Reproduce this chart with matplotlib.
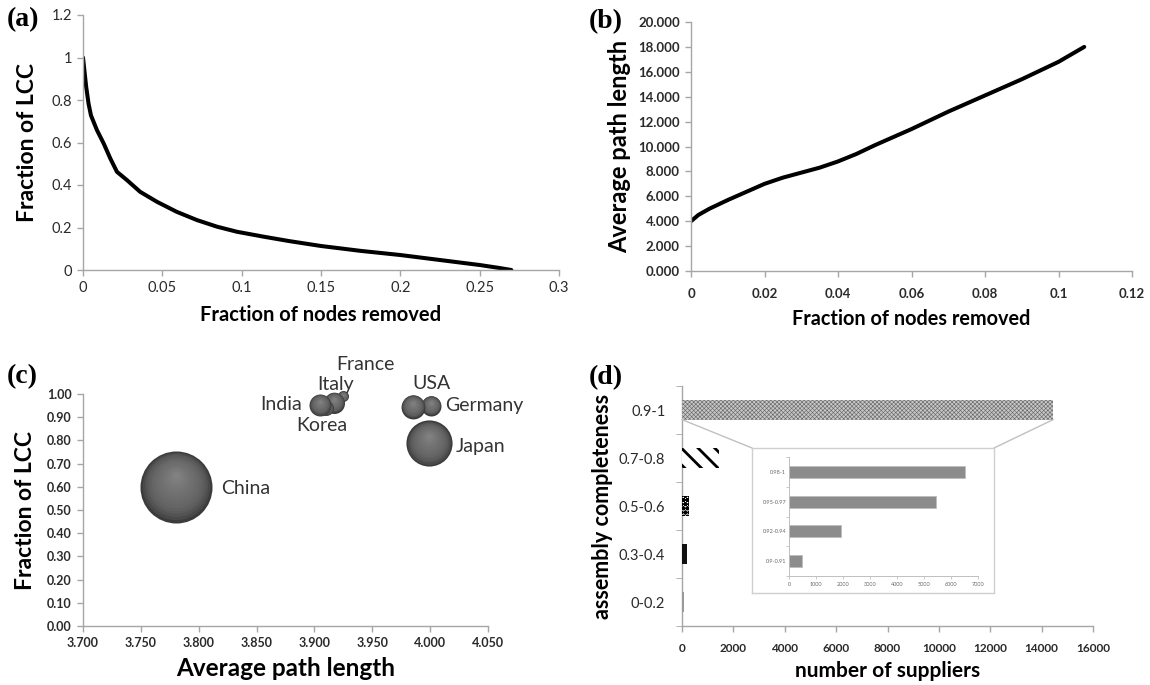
import numpy as np
import matplotlib
matplotlib.use('Agg')
import matplotlib.pyplot as plt
import matplotlib.transforms as mtransforms
from matplotlib.patches import ConnectionPatch

# ---------------- data ----------------
# (a)
a_removed = [0, 0.002, 0.0035, 0.005, 0.0088, 0.013, 0.0172, 0.0214, 0.0277, 0.036,
             0.0466, 0.059, 0.0718, 0.0844, 0.097, 0.1137, 0.13, 0.15, 0.175, 0.2,
             0.225, 0.25, 0.262, 0.27]
a_lcc = [1.0, 0.862, 0.783, 0.728, 0.658, 0.596, 0.525, 0.462, 0.423, 0.368,
         0.321, 0.274, 0.235, 0.204, 0.18, 0.157, 0.136, 0.113, 0.09, 0.0705,
         0.047, 0.0235, 0.01, 0.0]
a_xticks = [0, 0.05, 0.1, 0.15, 0.2, 0.25, 0.3]
a_xticklabels = ['0', '0.05', '0.1', '0.15', '0.2', '0.25', '0.3']
a_yticks = [0, 0.2, 0.4, 0.6, 0.8, 1.0, 1.2]
a_yticklabels = ['0', '0.2', '0.4', '0.6', '0.8', '1', '1.2']

# (b)
b_removed = [0, 0.002, 0.005, 0.01, 0.015, 0.02, 0.025, 0.03, 0.035, 0.04, 0.045,
             0.05, 0.06, 0.07, 0.08, 0.09, 0.1, 0.107]
b_apl = [4.0, 4.5, 5.0, 5.7, 6.35, 7.0, 7.5, 7.9, 8.3, 8.8, 9.4,
         10.1, 11.4, 12.8, 14.1, 15.4, 16.8, 18.0]
b_xticks = [0, 0.02, 0.04, 0.06, 0.08, 0.1, 0.12]
b_xticklabels = ['0', '0.02', '0.04', '0.06', '0.08', '0.1', '0.12']
b_yticks = [0, 2, 4, 6, 8, 10, 12, 14, 16, 18, 20]

# (c)
countries = ['China', 'Japan', 'USA', 'Germany', 'India', 'Korea', 'Italy', 'France']
c_apl = [3.780, 3.999, 3.985, 4.001, 3.905, 3.910, 3.917, 3.925]
c_lcc = [0.60, 0.787, 0.945, 0.95, 0.953, 0.94, 0.963, 0.99]
c_bubble = [100, 41, 11, 7.7, 9.3, 4.3, 8.5, 2.3]
c_xticks = [3.70, 3.75, 3.80, 3.85, 3.90, 3.95, 4.00, 4.05]
c_yticks = [0.0, 0.1, 0.2, 0.3, 0.4, 0.5, 0.6, 0.7, 0.8, 0.9, 1.0]

# (d)
completeness = ['0-0.2', '0.3-0.4', '0.5-0.6', '0.7-0.8', '0.9-1']
suppliers = [90, 180, 260, 1440, 14450]
d_xticks = [0, 2000, 4000, 6000, 8000, 10000, 12000, 14000, 16000]
inset_cats = ['0.9-0.91', '0.92-0.94', '0.95-0.97', '0.98-1']
inset_suppliers = [480, 1930, 5450, 6500]
inset_xticks = [0, 1000, 2000, 3000, 4000, 5000, 6000, 7000]

# ---------------- style ----------------
SANS = ['Lato', 'DejaVu Sans']
SERIF = ['Liberation Serif', 'DejaVu Serif']
plt.rcParams['font.family'] = SANS
SPINE = '#a6a6a6'
W, H = 1150, 685

fig = plt.figure(figsize=(11.5, 6.85), dpi=100)


def rect(l, t, r, b):
    return [l / W, 1 - b / H, (r - l) / W, (b - t) / H]


def excel_axes(ax, tick_size, bold=False):
    for s in ['top', 'right']:
        ax.spines[s].set_visible(False)
    for s in ['left', 'bottom']:
        ax.spines[s].set_color(SPINE)
        ax.spines[s].set_linewidth(1.0)
    ax.tick_params(direction='out', length=4, width=1, color=SPINE,
                   labelsize=tick_size, labelcolor='#2a2a2a', pad=4)
    if bold:
        for lab in ax.get_xticklabels() + ax.get_yticklabels():
            lab.set_fontweight('bold')


# ---------------- (a) ----------------
axa = fig.add_axes(rect(83, 15, 559, 270))
axa.plot(a_removed, a_lcc, color='black', lw=2.9, solid_capstyle='round',
         solid_joinstyle='round')
axa.set_xlim(0, 0.3)
axa.set_ylim(0, 1.2)
axa.set_xticks(a_xticks)
axa.set_xticklabels(a_xticklabels)
axa.set_yticks(a_yticks)
axa.set_yticklabels(a_yticklabels)
excel_axes(axa, 10.5)
axa.set_xlabel('Fraction of nodes removed', fontsize=14.5, fontweight='bold', labelpad=7)
axa.set_ylabel('Fraction of LCC', fontsize=16.5, fontweight='bold', labelpad=10)

# ---------------- (b) ----------------
axb = fig.add_axes(rect(691, 22, 1132, 271))
axb.plot(b_removed, b_apl, color='black', lw=2.9, solid_capstyle='round',
         solid_joinstyle='round')
axb.set_xlim(0, 0.12)
axb.set_ylim(0, 20)
axb.set_xticks(b_xticks)
axb.set_xticklabels(b_xticklabels)
axb.set_yticks(b_yticks)
axb.set_yticklabels(['%.3f' % v for v in b_yticks])
excel_axes(axb, 9.5, bold=True)
axb.tick_params(axis='x', pad=8)
axb.set_xlabel('Fraction of nodes removed', fontsize=14.3, fontweight='bold', labelpad=7)
axb.set_ylabel('Average path length', fontsize=17, fontweight='bold', labelpad=5)

# ---------------- (c) ----------------
axc = fig.add_axes(rect(83, 394, 488, 626))
axc.set_xlim(3.70, 4.05)
axc.set_ylim(0, 1.0)
axc.set_xticks(c_xticks)
axc.set_xticklabels(['%.3f' % v for v in c_xticks])
axc.set_yticks(c_yticks)
axc.set_yticklabels(['%.2f' % v for v in c_yticks])
excel_axes(axc, 9, bold=True)
axc.set_xlabel('Average path length', fontsize=17.5, fontweight='bold', labelpad=6)
axc.set_ylabel('Fraction of LCC', fontsize=16.5, fontweight='bold', labelpad=8)

SIZE_K = 26.9  # points^2 per bubble unit
label_offsets = {  # pixels (dx, dy, ha)
    'China': (46, -2, 'left'), 'Japan': (27, -3, 'left'), 'USA': (0, 23, 'left'),
    'Germany': (14, 0, 'left'), 'India': (-18, 0, 'right'), 'Italy': (1, 18, 'center'),
    'Korea': (-4, -18, 'center'), 'France': (-7, 32, 'left'),
}
n_layers = 16
for name, x, y, b in zip(countries[::-1], c_apl[::-1], c_lcc[::-1], c_bubble[::-1]):
    s = b * SIZE_K
    r_pt = np.sqrt(s) / 2
    for i in range(n_layers):
        f = 1 - i / n_layers
        g = 0.40 - 0.17 * f ** 6 + 0.13 * (1 - f) ** 2
        off = (1 - f) * r_pt * 0.35
        tr = mtransforms.offset_copy(axc.transData, fig=fig, x=0, y=off, units='points')
        axc.scatter([x], [y], s=s * f * f, color=(g, g, g), lw=0, transform=tr,
                    clip_on=False, zorder=3)
for name, x, y in zip(countries, c_apl, c_lcc):
    dx, dy, ha = label_offsets[name]
    axc.annotate(name, (x, y), xytext=(dx, dy), textcoords='offset pixels',
                 ha=ha, va='center', fontsize=14, color='#333333',
                 annotation_clip=False, zorder=5)

# ---------------- (d) ----------------
axd = fig.add_axes(rect(682, 386, 1093, 626))
bar_h = 0.4
styles = [
    dict(facecolor='#9a9a9a', edgecolor='#9a9a9a', hatch=None, hlw=1.0),
    dict(facecolor='#111111', edgecolor='#111111', hatch=None, hlw=1.0),
    dict(facecolor='white', edgecolor='black', hatch='oooo', hlw=1.6),
    dict(facecolor='white', edgecolor='black', hatch='\\\\', hlw=2.0),
    dict(facecolor='#c8c8c8', edgecolor='#6a6a6a', hatch='xxxxxxxx', hlw=0.45),
]
for i, (cat, v) in enumerate(zip(completeness, suppliers)):
    st = styles[i]
    plt.rcParams['hatch.linewidth'] = st['hlw']
    axd.barh(i, v, height=bar_h, facecolor=st['facecolor'], edgecolor=st['edgecolor'],
             hatch=st['hatch'], lw=0, zorder=3)
plt.rcParams['hatch.linewidth'] = 1.0
axd.set_xlim(0, 16000)
axd.set_ylim(-0.5, len(completeness) - 0.5)
axd.set_xticks(d_xticks)
axd.set_xticklabels([str(v) for v in d_xticks])
axd.set_yticks(range(len(completeness)))
axd.set_yticklabels(completeness)
axd.set_yticks(np.arange(-0.5, len(completeness), 1.0), minor=True)
excel_axes(axd, 8.5, bold=True)
axd.tick_params(axis='x', pad=8)
axd.tick_params(axis='y', which='major', length=0, pad=12)
axd.tick_params(axis='y', which='minor', direction='out', length=4, color=SPINE)
for lab in axd.get_yticklabels():
    lab.set_fontweight('normal')
    lab.set_fontsize(10.5)
axd.set_xlabel('number of suppliers', fontsize=15, fontweight='bold', labelpad=5)
axd.set_ylabel('assembly completeness', fontsize=15.5, fontweight='bold', labelpad=4)

# inset box
box = fig.add_axes(rect(752, 448, 994, 593))
box.set_xticks([])
box.set_yticks([])
box.patch.set_facecolor('white')
for s in box.spines.values():
    s.set_color('#cfcfcf')
    s.set_linewidth(1.0)
box.set_zorder(5)

axi = fig.add_axes(rect(789, 457, 978, 576))
axi.set_zorder(6)
axi.patch.set_alpha(0)
axi.barh(range(len(inset_cats)), inset_suppliers, height=0.4, color='#8c8c8c',
         edgecolor='#bdbdbd', lw=0.6, zorder=3)
axi.set_xlim(0, 7000)
axi.set_ylim(-0.5, len(inset_cats) - 0.5)
axi.set_xticks(inset_xticks)
axi.set_xticklabels([str(v) for v in inset_xticks])
axi.set_yticks(range(len(inset_cats)))
axi.set_yticklabels(inset_cats)
axi.set_yticks(np.arange(-0.5, len(inset_cats), 1.0), minor=True)
for s in ['top', 'right']:
    axi.spines[s].set_visible(False)
for s in ['left', 'bottom']:
    axi.spines[s].set_color('#c0c0c0')
    axi.spines[s].set_linewidth(0.7)
axi.tick_params(labelsize=4, labelcolor='#666666', length=2, width=0.6,
                color='#c0c0c0', pad=2)
axi.tick_params(axis='y', which='major', length=0)
axi.tick_params(axis='y', which='minor', length=2, width=0.6, color='#c0c0c0')

# connection lines from top bar to inset box
top_i = len(completeness) - 1
for xa, xb in [(0, 0), (suppliers[top_i], 1)]:
    con = ConnectionPatch(xyA=(xa, top_i - bar_h / 2), coordsA=axd.transData,
                          xyB=(xb, 1), coordsB=box.transAxes,
                          color='#c0c0c0', lw=1.0, zorder=4)
    fig.add_artist(con)

# panel labels
for txt, (px, py) in {'(a)': (7, 20), '(b)': (589, 22), '(c)': (7, 377), '(d)': (589, 378)}.items():
    fig.text(px / W, 1 - py / H, txt, fontsize=20, fontweight='bold', family=SERIF,
             ha='left', va='center')

fig.savefig('out.png', dpi=100)
